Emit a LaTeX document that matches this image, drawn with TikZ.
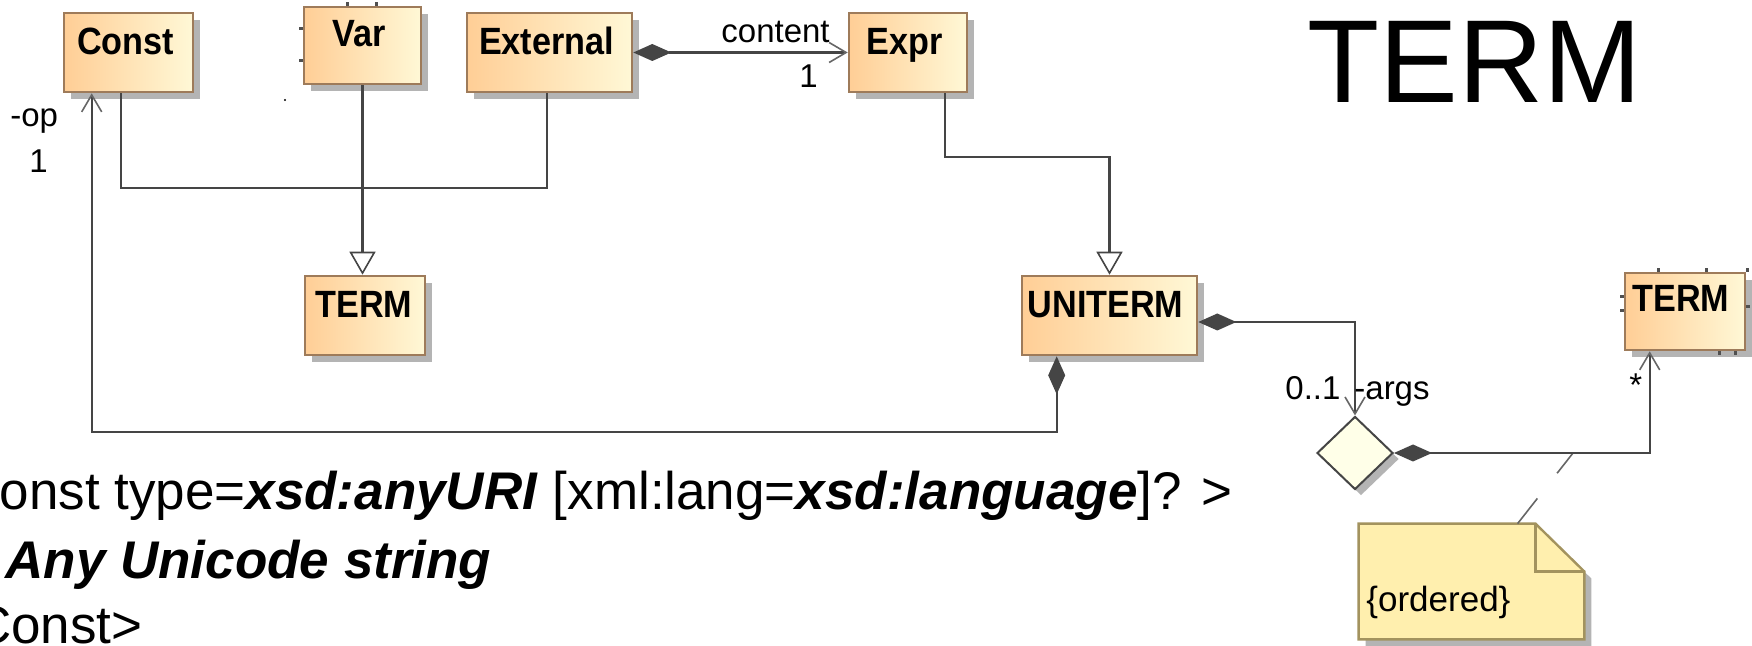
\documentclass[tikz,border=0pt]{standalone}
\usepackage{fontspec}
\setmainfont{Liberation Sans}
\usepackage{graphicx}
\usetikzlibrary{arrows.meta,shadows,calc,shapes.geometric}

\definecolor{clsL}{HTML}{FFCE96}
\definecolor{clsR}{HTML}{FFF8D6}
\definecolor{clsB}{HTML}{9E7B5A}
\definecolor{shd}{HTML}{B4B4B4}
\definecolor{wireC}{HTML}{454545}
\definecolor{barbC}{HTML}{666666}
\definecolor{noteF}{HTML}{FFEFAE}
\definecolor{noteB}{HTML}{A3935E}
\definecolor{gateF}{HTML}{FFFFE8}
\definecolor{tickC}{HTML}{505050}

\newcommand\umlname[1]{\scalebox{0.9}[1]{#1}}

\tikzset{
  compo/.tip={Diamond[length=19pt,width=8.5pt,fill=wireC,color=wireC]},
  barb/.tip={Straight Barb[length=8.5pt,width=10pt,line width=0.8pt,color=barbC]},
  genz/.tip={Triangle[length=11.5pt,width=13pt,fill=white,line width=0.8pt,color=wireC]},
  umlbox/.style={draw=clsB, line width=1.3pt, left color=clsL, right color=clsR,
    inner sep=0pt, general shadow={fill=shd, shadow xshift=3.5pt, shadow yshift=-3.5pt}},
  clsname/.style={anchor=base, inner sep=0pt, font=\bfseries\fontsize{19pt}{20pt}\selectfont},
  wire/.style={draw=wireC, line width=1.1pt},
  lbl/.style={anchor=base west, inner sep=0pt, font=\fontsize{16.5pt}{18pt}\selectfont},
  code/.style={anchor=base west, inner sep=0pt, font=\fontsize{26.5pt}{30pt}\selectfont},
  handle/.style={draw=tickC, line width=1.4pt},
}

\begin{document}
\begin{tikzpicture}[x=0.5pt, y=-0.5pt]
\useasboundingbox (0,0) rectangle (1752,646);
\fill[white] (0,0) rectangle (1752,646);
\clip (0,0) rectangle (1752,646);

% classes
\node[umlbox, minimum width=64.5pt, minimum height=39.5pt] (const) at (128.5,52.5) {};
\node[umlbox, minimum width=58.5pt, minimum height=38.5pt] (var) at (362.5,45.5) {};
\node[umlbox, minimum width=82.5pt, minimum height=39.5pt] (external) at (549.5,52.5) {};
\node[umlbox, minimum width=59pt, minimum height=39.5pt] (expr) at (908,52.5) {};
\node[umlbox, minimum width=60pt, minimum height=39.5pt] (term1) at (365,315.5) {};
\node[umlbox, minimum width=87.5pt, minimum height=39.5pt] (uniterm) at (1109.5,315.5) {};
\node[umlbox, minimum width=60pt, minimum height=38.5pt] (term2) at (1685,311.5) {};

\node[clsname] (constN) at ($(const.north)+(-3,43)$) {\umlname{Const}};
\node[clsname] (varN) at ($(var.north)+(-3,41)$) {\umlname{Var}};
\node[clsname] (externalN) at ($(external.north)+(-3,43)$) {\umlname{External}};
\node[clsname] (exprN) at ($(expr.north)+(-3,43)$) {\umlname{Expr}};
\node[clsname] (term1N) at ($(term1.north)+(-1,43)$) {\umlname{TERM}};
\node[clsname] (uniN) at ($(uniterm.north)+(-4,43)$) {\umlname{UNITERM}};
\node[clsname] (term2N) at ($(term2.north)+(-4,40)$) {\umlname{TERM}};

% selection handles
\draw[handle] ($(var.north west)+(45,0)$) -- ++(0,-4);
\draw[handle] ($(var.north west)+(74,0)$) -- ++(0,-4);
\draw[handle] ($(var.north west)+(0,23)$) -- ++(-4,0);
\draw[handle] ($(var.north west)+(0,55)$) -- ++(-4,0);
\draw[handle] ($(term2.north west)+(35,0)$) -- ++(0,-4);
\draw[handle] ($(term2.north west)+(83,0)$) -- ++(0,-4);
\draw[handle] ($(term2.north east)+(1,0)$) -- ++(0,-4);
\draw[handle] ($(term2.north west)+(0,25)$) -- ++(-4,0);
\draw[handle] ($(term2.north west)+(0,39)$) -- ++(-4,0);
\draw[handle] ($(term2.north east)+(0,35)$) -- ++(4,0);
\draw[handle] ($(term2.south west)+(96,0)$) -- ++(0,4);
\draw[handle] ($(term2.south west)+(112,0)$) -- ++(0,4);
\fill (285,100) circle (0.6pt);

% n-ary association gate
\node[draw=wireC, line width=1pt, fill=gateF, shape=diamond, inner sep=0pt,
  minimum width=38pt, minimum height=36.5pt,
  general shadow={fill=shd, shadow xshift=3pt, shadow yshift=-3pt}] (gate) at (1355,453) {};

% note
\node[minimum width=112.5pt, minimum height=57.5pt, inner sep=0pt] (note) at (1471.5,581.5) {};
\filldraw[fill=noteF, draw=noteB, line width=1.2pt,
  general shadow={fill=shd, shadow xshift=3.5pt, shadow yshift=-3.5pt}]
  (note.north west) -- ($(note.north east)+(-49,0)$) -- ($(note.north east)+(0,48)$)
  -- (note.south east) -- (note.south west) -- cycle;
\draw[draw=noteB, line width=1.2pt] ($(note.north east)+(-49,0)$) -- ++(0,48) -- ++(49,0);
\node[lbl, font=\fontsize{17.5pt}{19pt}\selectfont] (noteT) at (1366,611) {\{ordered\}};
\coordinate (noteLink) at (1573,453);
\draw[draw=barbC, line width=0.8pt, dash pattern=on 16pt off 16pt]
  ($(note.north west)+(159,0)$) -- (noteLink);

% connectors
\draw[wire, compo-barb] ($(uniterm.south west)+(36,0)$) -- ++(0,76) -| ($(const.south west)+(29,0)$);
\draw[wire] ($(const.south west)+(58,0)$) -- ++(0,95) -| ($(external.south west)+(81,0)$);
\draw[wire, -genz] (var.south) -- (var.south |- term1.north);
\draw[wire, compo-barb] (external.east) -- (expr.west);
\draw[wire, -genz] ($(expr.south west)+(97,0)$) -- ++(0,64) -| (uniterm.north);
\draw[wire, compo-barb] ($(uniterm.east)+(0,6.5)$) -| (gate.north);
\draw[wire, compo-barb] (gate.east) -| ($(term2.south west)+(26,0)$);

% role names and multiplicities
\node[lbl] (lcontent) at (721,43) {content};
\node[lbl] (lone) at (799,88) {1};
\node[lbl] (lop) at (10,127) {-op};
\node[lbl] (lopm) at (29,173) {1};
\node[lbl] (largsm) at (1285,400) {0..1};
\node[lbl] (largs) at (1354,400) {-args};
\node[lbl] (lstar) at (1629,397) {*};

% title
\node[anchor=base west, inner sep=0pt, font=\fontsize{59pt}{60pt}\selectfont] (title) at (1307,103) {TERM};

% XML syntax
\node[code] (line1) at (-70,510) {<Const type=\textbf{\textit{xsd:anyURI}} [xml:lang=\textbf{\textit{xsd:language}}]? >};
\node[code] (line2) at (5,579) {\textbf{\textit{Any Unicode string}}};
\node[code] (line3) at (-73,644) {</Const>};
\end{tikzpicture}
\end{document}
